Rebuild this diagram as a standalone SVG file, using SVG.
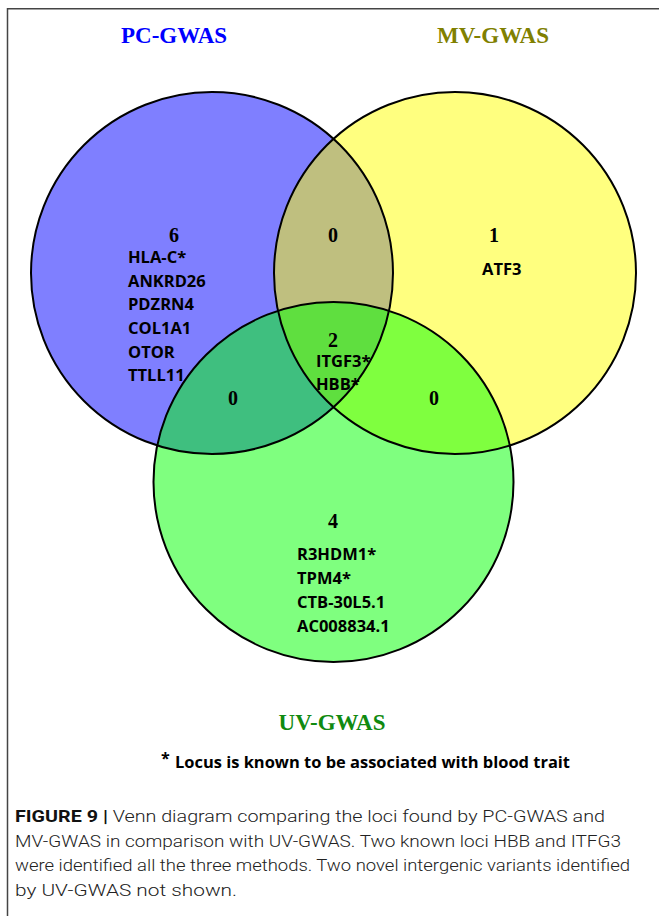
<svg xmlns="http://www.w3.org/2000/svg" width="659" height="916" viewBox="0 0 659 916">
<style>
.frame{fill:none;stroke:#444;stroke-width:1.5}
.ring{fill:none;stroke:#000;stroke-width:2}
.set{font-family:"Liberation Serif","Times New Roman",serif;font-weight:700;font-size:23px;text-anchor:middle}
.num{font-family:"Liberation Serif","Times New Roman",serif;font-weight:700;font-size:20px;text-anchor:middle;fill:#000}
.gene{font-family:"Open Sans","Noto Sans",sans-serif;font-weight:700;font-size:16.5px;fill:#000}
.note{font-family:"Open Sans","Noto Sans",sans-serif;font-weight:700;font-size:16px;fill:#000}
.cap{font-family:Roboto,"Liberation Sans",Arial,sans-serif;font-weight:300;font-size:17px;fill:#222}
.capb{font-weight:700;fill:#111}
</style>
<rect width="659" height="916" fill="#fff"/>
<path class="frame" d="M7.5 916 V8.7 H659"/>
<g id="fills">
<g id="pc-gwas"><circle cx="212" cy="273" r="181" fill="#0000ff" fill-opacity="0.5"/></g>
<g id="mv-gwas"><circle cx="455" cy="273" r="181" fill="#ffff00" fill-opacity="0.5"/></g>
<g id="uv-gwas"><circle cx="333.5" cy="482" r="180" fill="#00ff00" fill-opacity="0.5"/></g>
</g>
<g id="outlines">
<circle class="ring" cx="212" cy="273" r="181"/>
<circle class="ring" cx="455" cy="273" r="181"/>
<circle class="ring" cx="333.5" cy="482" r="180"/>
</g>
<g id="labels">
<text class="set" x="174" y="43" fill="#0000ff">PC-GWAS</text>
<text class="set" x="493" y="43" fill="#808000">MV-GWAS</text>
<text class="set" x="332" y="730" fill="#108a10">UV-GWAS</text>
</g>
<g id="region-pc">
<text class="num" x="174" y="242">6</text>
<text class="gene" x="128" y="263">HLA-C*</text>
<text class="gene" x="128" y="287">ANKRD26</text>
<text class="gene" x="128" y="310">PDZRN4</text>
<text class="gene" x="128" y="334">COL1A1</text>
<text class="gene" x="128" y="358">OTOR</text>
<text class="gene" x="128" y="381">TTLL11</text>
</g>
<g id="region-pc-mv"><text class="num" x="333" y="242">0</text></g>
<g id="region-mv">
<text class="num" x="494" y="242">1</text>
<text class="gene" x="482" y="275">ATF3</text>
</g>
<g id="region-all">
<text class="num" x="333" y="347">2</text>
<text class="gene" x="316" y="367">ITGF3*</text>
<text class="gene" x="316" y="390">HBB*</text>
</g>
<g id="region-pc-uv"><text class="num" x="233" y="405">0</text></g>
<g id="region-mv-uv"><text class="num" x="434" y="405">0</text></g>
<g id="region-uv">
<text class="num" x="333" y="528">4</text>
<text class="gene" x="297" y="560">R3HDM1*</text>
<text class="gene" x="297" y="584">TPM4*</text>
<text class="gene" x="297" y="608">CTB-30L5.1</text>
<text class="gene" x="297" y="632">AC008834.1</text>
</g>
<g id="note">
<text class="note" x="161" y="764" font-size="22">*</text>
<text class="note" x="175" y="768" textLength="395" lengthAdjust="spacingAndGlyphs">Locus is known to be associated with blood trait</text>
</g>
<g id="caption">
<text class="cap" x="15" y="822" textLength="590" lengthAdjust="spacingAndGlyphs"><tspan class="capb">FIGURE 9 |</tspan> Venn diagram comparing the loci found by PC-GWAS and</text>
<text class="cap" x="15" y="846.5" textLength="606" lengthAdjust="spacingAndGlyphs">MV-GWAS in comparison with UV-GWAS. Two known loci HBB and ITFG3</text>
<text class="cap" x="15" y="871" textLength="615" lengthAdjust="spacingAndGlyphs">were identified all the three methods. Two novel intergenic variants identified</text>
<text class="cap" x="15" y="895.5" textLength="222" lengthAdjust="spacingAndGlyphs">by UV-GWAS not shown.</text>
</g>
</svg>
